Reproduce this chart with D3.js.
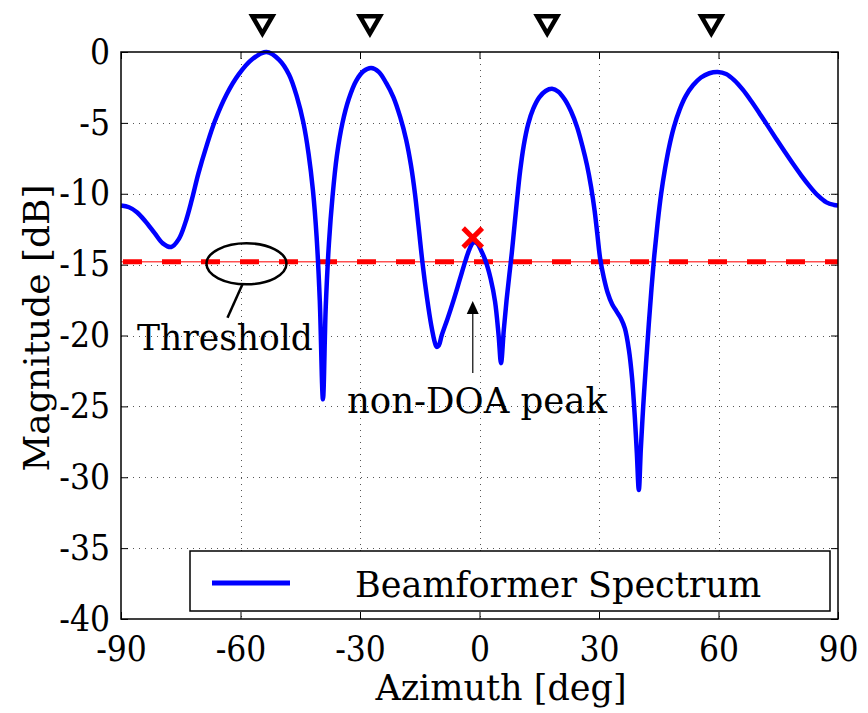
<!DOCTYPE html>
<html>
<head>
<meta charset="utf-8">
<script src="https://cdn.jsdelivr.net/npm/d3@7"></script>
<style>
  html, body { margin: 0; padding: 0; background: #fff; }
  svg text { font-family: "DejaVu Serif", serif; fill: #000; }
  .tick text { font-family: "DejaVu Serif Condensed", "DejaVu Serif", serif; font-stretch: condensed; }
</style>
</head>
<body>
<svg id="chart" width="868" height="713"></svg>
<script>
// ---- data ----
const azimuth = [
  -90, -88, -86, -84, -81.5, -79.5, -77.4, -75.5, -73.8, -72.2, -70.6, -68.5, -66.4, -63.5, -60.5, -57, -53.5,
  -50.3, -47.8, -45.8, -44.2, -42.9, -41.8, -40.9, -40.1, -39.3,
  -38.6, -37.8, -36.9, -35.8, -34.4, -32.8, -31, -29.1, -27.2, -25.3, -23.4, -21.6, -19.9, -18.4, -17.2, -16.2,
  -15.3, -14.3, -13.2, -12.1, -11.2, -10.75, -10.2, -9.5, -8, -6.5, -5, -3.5, -2.5, -1.6, -0.6, 0.4, 1.6, 2.8, 3.9, 4.8, 5.4,
  6.1, 6.8, 7.5, 8.1, 8.8, 9.4, 10.2, 11.1, 12.2, 13.5, 15, 16.6, 18.2, 19.8, 21.4, 23, 24.5, 25.8, 27, 28, 28.9, 29.6, 30.3,
  31.2, 32.2, 33.3, 34.4, 35.5, 36.5, 37.5, 38.3, 39, 39.5, 40, 40.5, 41.1, 41.8, 42.5, 43.2, 43.9, 44.7, 45.6, 46.6, 47.6, 48.8,
  50.2, 51.8, 53.6, 55.6, 57.7, 59.8, 61.9, 64, 66.1, 68.2, 70.3, 72.4, 74.5, 76.6, 78.7, 80.8, 82.9, 85, 87.1, 89, 90];
const magnitude = [
  -10.83, -10.95, -11.3, -11.9, -12.8, -13.5, -13.76, -13.2, -12.0, -10.4, -8.6, -6.6, -4.85, -3.0, -1.6, -0.5, 0,
  -0.55, -1.6, -3.2, -5.0, -7.2, -9.8, -13.0, -17.5, -24.5,
  -18.0, -13.5, -10.2, -7.3, -5.0, -3.3, -2.05, -1.35, -1.13, -1.4, -2.2, -3.2, -4.6, -6.2, -8.0, -10.0,
  -12.3, -14.9, -17.3, -19.3, -20.5, -20.8, -20.7, -20.0, -18.8, -17.5, -16.1, -14.7, -13.9, -13.45, -13.5, -14.0, -14.8, -16.0, -17.6, -20.0, -21.95,
  -19.6, -17.5, -15.7, -14.2, -12.2, -10.5, -8.4, -6.6, -5.1, -4.0, -3.2, -2.75, -2.6, -2.8, -3.35, -4.2, -5.3, -6.6, -8.0, -9.5, -11.2, -12.9, -14.6,
  -15.9, -17.0, -17.8, -18.3, -18.8, -19.5, -21.0, -23.0, -25.8, -28.3, -30.9, -28.0, -25.0, -22.0, -19.2, -16.6, -14.3, -12.1, -10.0, -8.2, -6.7, -5.3,
  -4.1, -3.1, -2.35, -1.8, -1.5, -1.41, -1.55, -2.0, -2.66, -3.46, -4.33, -5.23, -6.13, -7.02, -7.89, -8.72, -9.48, -10.14, -10.61, -10.79, -10.83];
const doaAngles = [-54.5, -27.5, 17, 58.2];
const thresholdDb = -14.8;
const nonDoaPeak = [-1.7, -13.1];
const xTicks = [-90, -60, -30, 0, 30, 60, 90];
const yTicks = [0, -5, -10, -15, -20, -25, -30, -35, -40];
const legendLabel = "Beamformer Spectrum";

// ---- layout ----
const W = 868, H = 713;
const margin = {left: 121, right: 30, top: 52, bottom: 94};
const iw = W - margin.left - margin.right;
const ih = H - margin.top - margin.bottom;

const svg = d3.select("#chart");
const g = svg.append("g").attr("transform", `translate(${margin.left},${margin.top})`);

const x = d3.scaleLinear().domain([-90, 90]).range([0, iw]);
const y = d3.scaleLinear().domain([-40, 0]).range([ih, 0]);

// grid
const grid = g.append("g").attr("stroke", "#555").attr("stroke-width", 1).attr("stroke-dasharray", "1,5");
grid.selectAll("line.v").data(xTicks.slice(1, -1)).join("line")
  .attr("x1", d => Math.round(x(d)) + 0.5).attr("x2", d => Math.round(x(d)) + 0.5)
  .attr("y1", 0).attr("y2", ih);
grid.selectAll("line.h").data(yTicks.slice(1, -1)).join("line")
  .attr("y1", d => Math.round(y(d)) + 0.5).attr("y2", d => Math.round(y(d)) + 0.5)
  .attr("x1", 0).attr("x2", iw);

// axes
const fmt = d => String(d);
const ax = g.append("g").attr("transform", `translate(0,${ih})`)
  .call(d3.axisBottom(x).tickValues(xTicks).tickFormat(fmt).tickSizeInner(-7).tickSizeOuter(0).tickPadding(17));
const ay = g.append("g")
  .call(d3.axisLeft(y).tickValues(yTicks).tickFormat(fmt).tickSizeInner(-7).tickSizeOuter(0).tickPadding(11));
const axT = g.append("g")
  .call(d3.axisTop(x).tickValues(xTicks).tickFormat("").tickSizeInner(-7).tickSizeOuter(0));
const ayR = g.append("g").attr("transform", `translate(${iw},0)`)
  .call(d3.axisRight(y).tickValues(yTicks).tickFormat("").tickSizeInner(-7).tickSizeOuter(0));
[ax, ay, axT, ayR].forEach(a => {
  a.select(".domain").remove();
  a.attr("font-family", null);
  a.selectAll(".tick line").attr("stroke", "#000").attr("stroke-width", 1);
  a.selectAll(".tick text").attr("font-size", 35);
});

// threshold lines
g.append("line").attr("x1", 0).attr("x2", iw)
  .attr("y1", y(thresholdDb)).attr("y2", y(thresholdDb))
  .attr("stroke", "#ff5050").attr("stroke-width", 1.5);
g.append("line").attr("x1", 0).attr("x2", iw)
  .attr("y1", y(thresholdDb)).attr("y2", y(thresholdDb))
  .attr("stroke", "#ff0000").attr("stroke-width", 5).attr("stroke-dasharray", "19,20").attr("stroke-dashoffset", -2);

// spectrum curve
const pts = azimuth.map((a, i) => [a, magnitude[i]]);
const line = d3.line().x(d => x(d[0])).y(d => y(d[1])).curve(d3.curveCatmullRom.alpha(0.5));
g.append("path").datum(pts).attr("d", line)
  .attr("fill", "none").attr("stroke", "#0000ff").attr("stroke-width", 4.5).attr("stroke-linejoin", "round");

// plot box
g.append("rect").attr("x", 0).attr("y", 0).attr("width", iw).attr("height", ih)
  .attr("fill", "none").attr("stroke", "#000").attr("stroke-width", 1.5);

// non-DOA peak X marker
const xm = g.append("g").attr("transform", `translate(${x(nonDoaPeak[0])},${y(nonDoaPeak[1])})`);
xm.append("path").attr("d", d3.symbol().type(d3.symbolX).size(240)())
  .attr("fill", "none").attr("stroke", "#ff0000").attr("stroke-width", 5);

// DOA triangles above plot
g.selectAll("path.doa").data(doaAngles).join("path")
  .attr("class", "doa")
  .attr("transform", d => `translate(${x(d)},${-30}) rotate(180)`)
  .attr("d", d3.symbol().type(d3.symbolTriangle).size(175)())
  .attr("fill", "#fff").attr("stroke", "#000").attr("stroke-width", 4.5).attr("stroke-linejoin", "miter");

// threshold annotation: ellipse + leader + text
const ex = x(-58.5), ey = y(thresholdDb) + 2;
g.append("ellipse").attr("cx", ex).attr("cy", ey).attr("rx", 40).attr("ry", 20.5)
  .attr("fill", "none").attr("stroke", "#000").attr("stroke-width", 2.5);
g.append("line").attr("x1", ex - 4).attr("y1", ey + 20.5).attr("x2", ex - 19).attr("y2", ey + 54)
  .attr("stroke", "#000").attr("stroke-width", 2.5);
g.append("text").attr("x", 137 - margin.left).attr("y", 350 - margin.top)
  .attr("font-size", 34.5).attr("text-anchor", "start").text("Threshold");

// non-DOA peak annotation: arrow + text
const axp = x(nonDoaPeak[0]);
g.append("line").attr("x1", axp).attr("x2", axp).attr("y1", 373 - margin.top).attr("y2", 312 - margin.top)
  .attr("stroke", "#333").attr("stroke-width", 1.5);
g.append("path").attr("d", `M${axp},${301 - margin.top} l-6,13 l12,0 Z`).attr("fill", "#000");
g.append("text").attr("x", 347 - margin.left).attr("y", 413 - margin.top)
  .attr("font-size", 35.5).text("non-DOA peak");

// axis labels
svg.append("text").attr("x", 501).attr("y", 700).attr("text-anchor", "middle")
  .attr("font-size", 35).text("Azimuth [deg]");
svg.append("text").attr("transform", "translate(49,328) rotate(-90)").attr("text-anchor", "middle")
  .attr("font-size", 36).text("Magnitude [dB]");

// legend
const lg = svg.append("g");
lg.append("rect").attr("x", 190).attr("y", 551).attr("width", 640).attr("height", 60)
  .attr("fill", "#fff").attr("stroke", "#000").attr("stroke-width", 1.5);
lg.append("line").attr("x1", 212).attr("x2", 290).attr("y1", 583).attr("y2", 583)
  .attr("stroke", "#0000ff").attr("stroke-width", 5);
lg.append("text").attr("x", 355).attr("y", 597).attr("font-size", 35).text(legendLabel);
</script>
</body>
</html>
